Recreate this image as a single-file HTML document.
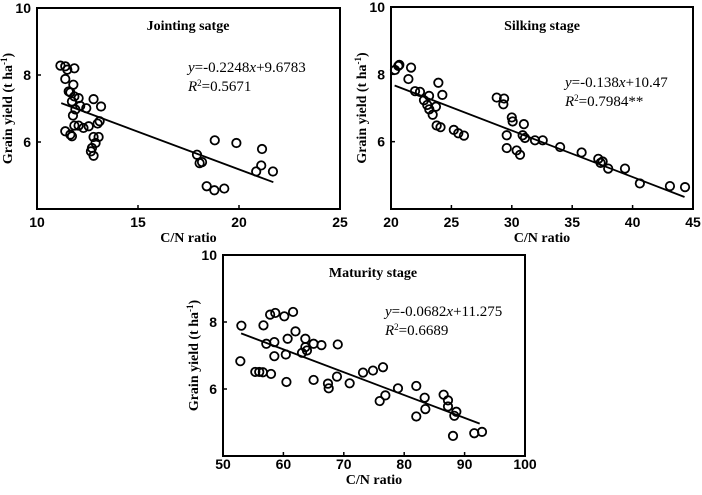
<!DOCTYPE html>
<html><head><meta charset="utf-8"><style>
body{margin:0;background:#fff;width:702px;height:490px;overflow:hidden}
svg text{fill:#000}
.tick{font:bold 14px "Liberation Sans",sans-serif}
.ttl{font:bold 14px "Liberation Serif",serif}
.eq{font:15px "Liberation Serif",serif}
</style></head><body>
<svg id="c" width="702" height="490" xmlns="http://www.w3.org/2000/svg"></svg>
<script>
const jointX=[11.16,11.4,11.5,11.85,11.4,11.8,11.57,11.65,11.85,12.06,11.73,12.14,12.44,11.9,11.78,12.8,13.17,13.1,13.0,11.85,12.06,12.3,12.56,11.4,11.65,11.73,12.8,13.05,12.9,12.72,12.67,12.8,17.92,18.05,18.17,18.8,19.87,18.4,18.78,19.27,21.14,21.1,20.85,21.68];
const jointY=[8.28,8.26,8.16,8.2,7.88,7.71,7.51,7.48,7.36,7.31,7.21,7.08,7.01,6.97,6.79,7.28,7.06,6.62,6.55,6.49,6.49,6.42,6.47,6.32,6.22,6.17,6.15,6.15,5.97,5.82,5.72,5.59,5.62,5.37,5.4,6.05,5.97,4.68,4.56,4.61,5.79,5.3,5.12,5.12];
const silkX=[20.33,20.61,20.69,21.66,21.44,21.99,22.4,22.73,23.15,23.0,23.17,23.72,23.45,23.92,24.25,23.78,24.1,25.2,25.57,26.04,28.75,29.36,29.3,29.58,29.58,30.0,30.07,30.4,30.68,31.0,30.9,31.09,31.92,32.56,34.0,35.78,37.16,37.52,37.35,37.98,39.37,40.6,43.09,44.34];
const silkY=[8.13,8.25,8.28,8.2,7.86,7.5,7.48,7.23,7.36,7.09,6.96,7.04,6.8,7.75,7.39,6.48,6.43,6.35,6.25,6.18,7.31,7.28,7.11,6.19,5.81,6.72,6.6,5.74,5.61,6.52,6.19,6.11,6.04,6.04,5.84,5.68,5.49,5.41,5.37,5.2,5.2,4.76,4.68,4.65];
const matX=[53.04,52.87,55.35,56.0,56.6,56.7,57.17,57.8,58.66,58.5,58.5,57.95,60.15,61.6,62.0,60.7,60.4,60.5,63.63,63.63,63.9,63.08,65.0,66.3,69.0,65.0,67.38,67.5,68.87,70.97,73.18,74.83,76.49,76.88,75.94,78.97,82.0,82.0,83.39,83.5,86.53,87.25,87.25,88.63,88.3,88.08,91.6,92.88];
const matY=[7.89,6.83,6.51,6.51,6.5,7.9,7.35,8.22,8.27,7.4,6.98,6.45,8.17,8.3,7.72,7.5,7.03,6.21,7.5,7.25,7.15,7.08,7.35,7.31,7.33,6.27,6.16,6.02,6.37,6.17,6.49,6.55,6.65,5.81,5.64,6.02,6.09,5.18,5.74,5.4,5.83,5.66,5.48,5.32,5.2,4.6,4.68,4.72];
const jointTicks=[10,15,20,25], silkTicks=[20,25,30,35,40,45], matTicks=[50,60,70,80,90,100];
const yTicks=[6,8,10];
const fits=[{a:-0.2248,b:9.6783,x0:11.2,x1:21.7},{a:-0.138,b:10.47,x0:20.3,x1:44.3},{a:-0.0682,b:11.275,x0:53,x1:92.5}];
const NS="http://www.w3.org/2000/svg", svg=document.getElementById('c');
function mk(t,at,p){const e=document.createElementNS(NS,t);for(const k in at)e.setAttribute(k,at[k]);(p||svg).appendChild(e);return e;}
const panels=[
 {id:'jointing',L:37,R:340,T:8,B:209,xmin:10,xmax:25,xs:jointX,ys:jointY,ticks:jointTicks,title:'Jointing satge',tx:188,ty:30,ex:188,eq:'-0.2248',eb:'+9.6783',r2:'0.5671',ey:72,tk:18,xo:33},
 {id:'silking',L:391,R:693,T:7,B:209,xmin:20,xmax:45,xs:silkX,ys:silkY,ticks:silkTicks,title:'Silking stage',tx:542,ty:30,ex:565,eq:'-0.138',eb:'+10.47',r2:'0.7984**',ey:87,tk:18,xo:33},
 {id:'maturity',L:223,R:525,T:255,B:456,xmin:50,xmax:100,xs:matX,ys:matY,ticks:matTicks,title:'Maturity stage',tx:373,ty:277,ex:385,eq:'-0.0682',eb:'+11.275',r2:'0.6689',ey:316,tk:13,xo:28}];
panels.forEach((p,i)=>{
 const g=mk('g',{});
 
 
 const X=v=>p.L+(v-p.xmin)/(p.xmax-p.xmin)*(p.R-p.L);
 const Y=v=>p.B-(v-4)/6*(p.B-p.T);
 const fr=mk('rect',{x:p.L,y:p.T,width:p.R-p.L,height:p.B-p.T,fill:'none',stroke:'#000','stroke-width':2},g);
 
 
 p.ticks.forEach(t=>{const e=mk('text',{x:X(t),y:p.B+p.tk,'text-anchor':'middle',class:'tick'},g);e.textContent=t;
  
  
  mk('line',{x1:X(t),x2:X(t),y1:p.B,y2:p.B-4,stroke:'#000','stroke-width':1.5},g);});
 yTicks.forEach(t=>{const e=mk('text',{x:p.L-6,y:Y(t)+5,'text-anchor':'end',class:'tick'},g);e.textContent=t;
  
  
  mk('line',{x1:p.L,x2:p.L+4,y1:Y(t),y2:Y(t),stroke:'#000','stroke-width':1.5},g);});
 const xt=mk('text',{x:(p.L+p.R)/2,y:p.B+p.xo,'text-anchor':'middle',class:'ttl'},g);xt.textContent='C/N ratio';
 
 
 const cy=(p.T+p.B)/2, cx=p.L-25;
 const yt=mk('text',{x:cx,y:cy,'text-anchor':'middle',class:'ttl',transform:`rotate(-90 ${cx} ${cy})`},g);
 yt.innerHTML='Grain yield (t ha<tspan dy="-5" font-size="9">-1</tspan><tspan dy="5">)</tspan>';
 
 
 const ti=mk('text',{x:p.tx,y:p.ty,'text-anchor':'middle',class:'ttl'},g);ti.textContent=p.title;
 
 
 const e1=mk('text',{x:p.ex,y:p.ey,class:'eq'},g);
 e1.innerHTML='<tspan font-style="italic">y</tspan>='+p.eq+'<tspan font-style="italic">x</tspan>'+p.eb;
 
 
 const e2=mk('text',{x:p.ex,y:p.ey+19,class:'eq'},g);
 e2.innerHTML='<tspan font-style="italic">R</tspan><tspan dy="-5" font-size="9">2</tspan><tspan dy="5">='+p.r2+'</tspan>';
 
 
 const f=fits[i];
 const ln=mk('line',{x1:X(f.x0),y1:Y(f.a*f.x0+f.b),x2:X(f.x1),y2:Y(f.a*f.x1+f.b),stroke:'#000','stroke-width':1.8},g);
 
 
 p.xs.forEach((x,k)=>{const c=mk('circle',{cx:X(x),cy:Y(p.ys[k]),r:4.2,fill:'none',stroke:'#000','stroke-width':1.8},g);
  
  });
});
</script>
</body></html>
